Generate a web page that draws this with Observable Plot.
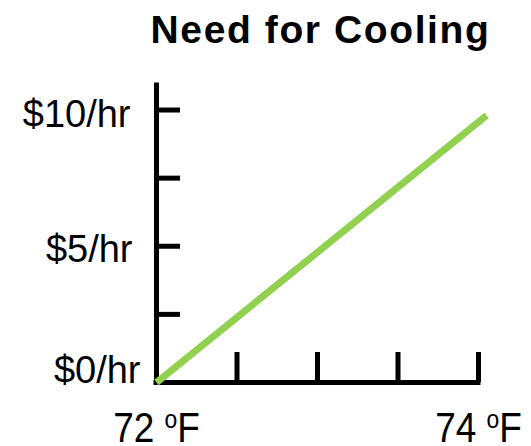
<!DOCTYPE html>
<html>
<head>
<meta charset="utf-8">
<script src="https://cdn.jsdelivr.net/npm/d3@7"></script>
<script src="https://cdn.jsdelivr.net/npm/@observablehq/plot@0.6"></script>
<style>
  html, body { margin: 0; padding: 0; background: #fff; }
  #wrap { position: relative; width: 531px; height: 446px; overflow: hidden; }
  #title {
    height: 70px; margin-left: 148px; width: 345px; text-align: center; white-space: nowrap;
    font-family: "Liberation Sans", Arial, sans-serif; font-weight: bold;
    font-size: 39px; letter-spacing: 1.6px; line-height: 60px; color: #000;
  }
  svg text { font-family: "Liberation Sans", Arial, sans-serif; }
</style>
</head>
<body>
<div id="wrap">
  <div id="title">Need for Cooling</div>
  <div id="chart"></div>
</div>
<script>
// Data
const temps = [72, 74.05];          // °F
const costs = [0, 9.8];             // $/hr
const yTicks = [0, 2.5, 5, 7.5, 10];
const yLabels = ["$0/hr", "", "$5/hr", "", "$10/hr"];
const xTicks = [72, 72.5, 73, 73.5, 74];
const xLabelTicks = [72, 74];
const xLabels = ["72", "74"];

const lineData = temps.map((t, i) => ({temp: t, cost: costs[i]}));

const chart = Plot.plot({
  width: 531,
  height: 376,
  marginLeft: 156,
  marginRight: 53,
  marginTop: 15,
  marginBottom: 64,
  style: {background: "transparent", overflow: "visible"},
  x: {domain: [72, 74]},
  y: {domain: [0, 10.9]},
  marks: [
    Plot.ruleX([72], {stroke: "#000", strokeWidth: 5, strokeLinecap: "square"}),
    Plot.ruleY([0], {stroke: "#000", strokeWidth: 5, strokeLinecap: "square"}),
    Plot.axisY(yTicks.filter(v => v > 0), {tickSize: -24, strokeWidth: 5, fill: "none", stroke: "#000", label: null, strokeLinecap: "butt"}),
    Plot.axisX(xTicks.filter(v => v > 72), {tickSize: -30, strokeWidth: 5, fill: "none", stroke: "#000", label: null, strokeLinecap: "butt"}),
    Plot.axisY(yTicks.filter((v, i) => yLabels[i]), {tickSize: 0, tickPadding: 26, fontSize: 38, fill: "#000", dy: 5,
      tickFormat: v => yLabels[yTicks.indexOf(v)], label: null}),
    Plot.axisX(xLabelTicks, {tickSize: 0, tickPadding: 30, fontSize: 42, fill: "#000",
      tickFormat: v => xLabels[xLabelTicks.indexOf(v)] + " oF", label: null}),
    Plot.line(lineData, {x: "temp", y: "cost", stroke: "#92d050", strokeWidth: 7, strokeLinecap: "butt"})
  ]
});
document.getElementById("chart").appendChild(chart);

// raise the "o" in the degree labels and narrow the glyphs slightly
d3.select(chart).selectAll("g[aria-label='x-axis tick label'] text").each(function() {
  const t = d3.select(this);
  const s = t.text();
  const num = s.split(" ")[0];
  t.text(null);
  t.append("tspan").text(num + " ");
  t.append("tspan").attr("font-size", "0.62em").attr("dy", "-0.55em").text("o");
  t.append("tspan").attr("dy", "0.34em").text("F");
  const tr = t.attr("transform") || "";
  t.attr("transform", tr + " scale(0.88,1)");
});

// nudge the y labels the way the reference places them
const yNudge = {"$0/hr": [10, -17], "$5/hr": [2, -1]};
d3.select(chart).selectAll("g[aria-label='y-axis tick label'] text").each(function() {
  const t = d3.select(this);
  const n = yNudge[t.text()];
  if (n) {
    const tr = t.attr("transform") || "";
    t.attr("transform", tr + ` translate(${n[0]},${n[1]})`);
  }
});
</script>
</body>
</html>
